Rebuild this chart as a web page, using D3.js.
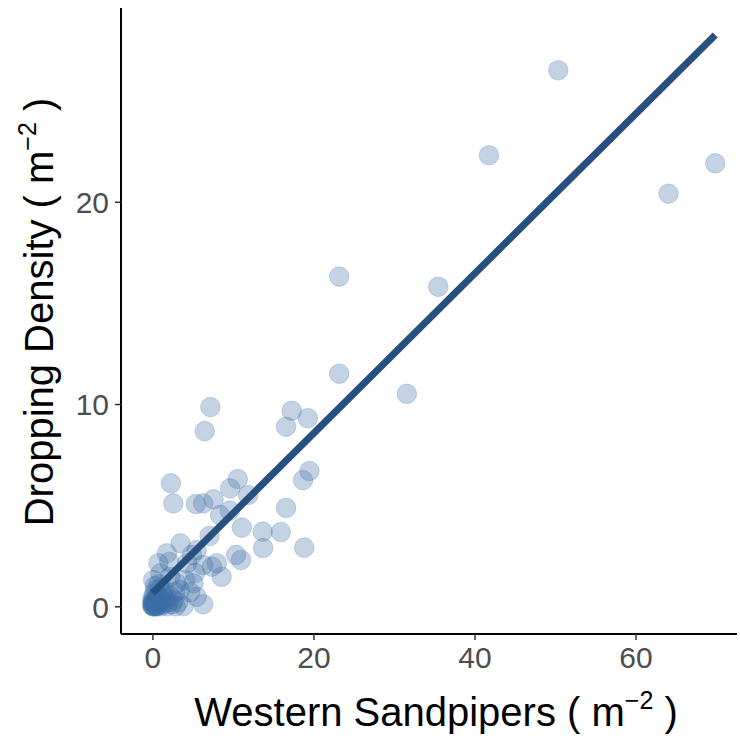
<!DOCTYPE html>
<html><head><meta charset="utf-8">
<script src="https://cdn.jsdelivr.net/npm/d3@7"></script>
<style>body{margin:0;background:#fff}svg{display:block}</style>
</head><body>
<script>
// Western Sandpipers density (x) vs dropping density (y)
const sandpipers = [50.4,41.8,69.9,64.1,23.2,35.5,23.2,31.6,7.2,6.5,17.3,16.6,19.3,19.5,18.7,16.6,13.7,15.95,13.75,18.85,
  2.3,2.6,5.4,6.3,7.6,10.6,9.65,11.9,8.4,9.6,11.1,7.1,3.5,10.4,11.0,8.0,8.6,4.9,0.75,2.1,6.3,7.4,6.3,3.85,4.05,5.1,0.1,5.3,1.8,5.5,4.3,2.2,1.0,5.5,3.0,3.4,4.7,
  0,0,0.1,0.2,0.3,0.4,0.5,0.6,0.7,0.8,0.9,1.0,1.1,1.2,1.3,1.5,1.6,1.8,2.0,2.2,2.4,2.6,2.9,3.2,0,0.2,0.1,0.4,0.6,1.0,1.4,0.3,0.8,2.8,0.05,0.15,0,0.5,0.2,0.9];
const droppings = [26.5,22.3,21.9,20.4,16.3,15.8,11.5,10.5,9.85,8.66,9.67,8.88,9.3,6.69,6.24,4.87,3.69,3.67,2.88,2.9,
  6.08,5.09,5.06,5.09,5.29,6.29,5.83,5.5,4.51,4.73,3.89,3.48,3.11,2.54,2.29,2.13,1.46,2.54,2.13,2.2,2.04,1.96,0.1,0,1.3,1.14,1.3,1.65,2.62,2.78,2.13,1.46,1.63,0.47,1.14,0.8,0.7,
  0,0.1,0,0.2,0,0.1,0.3,0,0.2,0.5,0.1,0,0.3,0.6,0.1,0.2,0.4,0,0.2,0.5,0.1,0.3,0,0.2,0.4,0.6,0.3,0.8,0.5,0.9,0.8,1.0,1.1,0.7,0.05,0.15,0.2,0,0,0.4];
// linear fit (intercept, slope) and its x extent
const fitCoef = [0.64, 0.395];
const fitRange = [0, 69.9];
const xTicks = [0, 20, 40, 60];
const yTicks = [0, 10, 20];

const W = 740, H = 738;
const svg = d3.select("body").append("svg").attr("width", W).attr("height", H);
const x = d3.scaleLinear().domain([-3.9, 72.6]).range([121, 737]);
const y = d3.scaleLinear().domain([-1.37, 29.58]).range([634, 8]);

const pts = sandpipers.map((v, i) => ({x: v, y: droppings[i]}));
svg.append("g").selectAll("circle").data(pts).join("circle")
  .attr("cx", d => x(d.x)).attr("cy", d => y(d.y)).attr("r", 9.8)
  .attr("fill", "rgba(58,110,165,0.3)")
  .attr("stroke", "rgba(58,110,165,0.25)").attr("stroke-width", 1);

const fit = fitRange.map(v => ({x: v, y: fitCoef[0] + fitCoef[1] * v}));
svg.append("path").datum(fit)
  .attr("d", d3.line().x(d => x(d.x)).y(d => y(d.y)))
  .attr("stroke", "#28507f").attr("stroke-width", 7).attr("fill", "none");

const font = "Liberation Sans, Arial, sans-serif";
const xAxis = svg.append("g").attr("transform", "translate(0,634)")
  .call(d3.axisBottom(x).tickValues(xTicks).tickSize(6).tickPadding(6).tickFormat(d3.format("d")));
xAxis.select(".domain").attr("d", "M121,0H737").attr("stroke", "#000").attr("stroke-width", 2);
xAxis.selectAll(".tick line").attr("stroke", "#333").attr("stroke-width", 1.5);
xAxis.selectAll(".tick text").attr("fill", "#4d4d4d").attr("font-size", 30).attr("font-family", font).attr("dy", "0.72em");

const yAxis = svg.append("g").attr("transform", "translate(121,0)")
  .call(d3.axisLeft(y).tickValues(yTicks).tickSize(6).tickPadding(6).tickFormat(d3.format("d")));
yAxis.select(".domain").attr("d", "M0,8V634").attr("stroke", "#000").attr("stroke-width", 2);
yAxis.selectAll(".tick line").attr("stroke", "#333").attr("stroke-width", 1.5);
yAxis.selectAll(".tick text").attr("fill", "#4d4d4d").attr("font-size", 30).attr("font-family", font).attr("dy", "0.36em");

function title(g, label) {
  const t = g.append("text").attr("font-family", font).attr("font-size", 40).attr("fill", "#000").attr("text-anchor", "middle");
  t.append("tspan").text(label + " ( m");
  t.append("tspan").attr("font-size", 25).attr("dy", -17).text("\u22122");
  t.append("tspan").attr("dy", 17).text(" )");
  return t;
}
title(svg.append("g").attr("transform", "translate(436,726)"), "Western Sandpipers");
title(svg.append("g").attr("transform", "translate(53,312) rotate(-90)"), "Dropping Density");
</script>
</body></html>
